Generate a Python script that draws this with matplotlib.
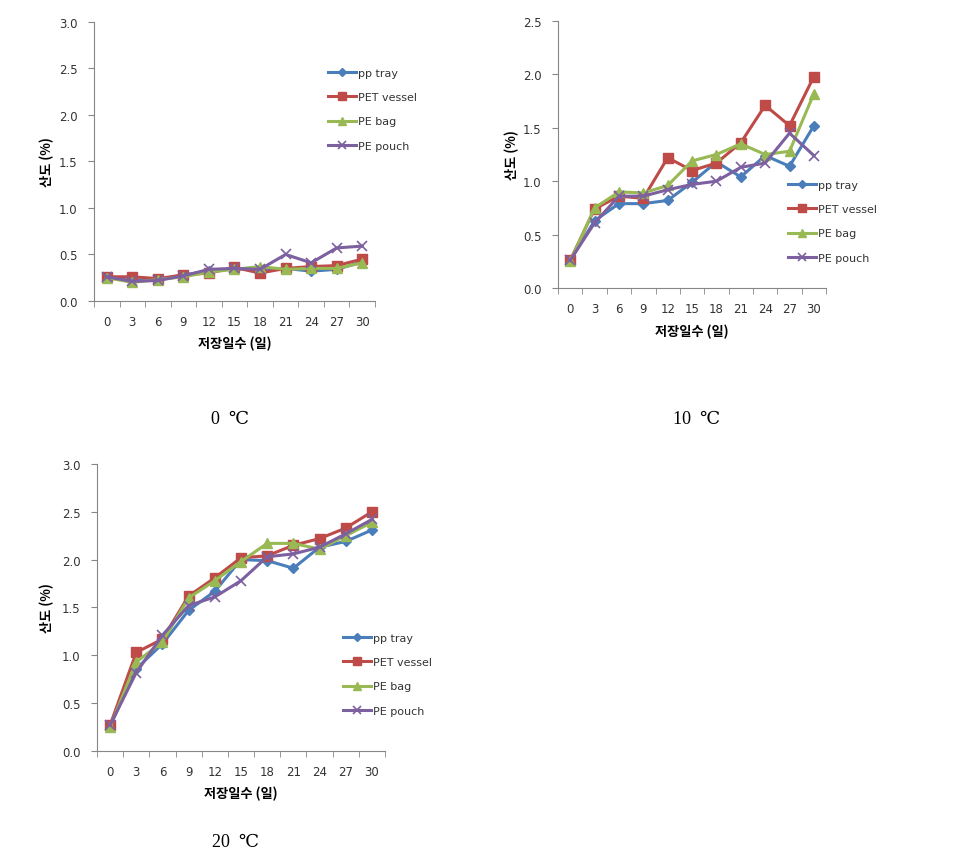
import numpy as np
import matplotlib
matplotlib.use("Agg")
import matplotlib.pyplot as plt

plt.rcParams['font.family'] = ['DejaVu Sans', 'Noto Sans CJK KR']

# storage days (categories)
days = ["0", "3", "6", "9", "12", "15", "18", "21", "24", "27", "30"]
series_names = ["pp tray", "PET vessel", "PE bag", "PE pouch"]

# acidity (%) at 0 C
acid_0 = {
    "pp tray":    [0.25, 0.22, 0.23, 0.28, 0.32, 0.35, 0.33, 0.35, 0.32, 0.34, 0.42],
    "PET vessel": [0.26, 0.26, 0.24, 0.28, 0.30, 0.36, 0.30, 0.35, 0.37, 0.38, 0.45],
    "PE bag":     [0.25, 0.20, 0.23, 0.26, 0.31, 0.34, 0.37, 0.34, 0.35, 0.35, 0.41],
    "PE pouch":   [0.26, 0.21, 0.22, 0.27, 0.34, 0.35, 0.34, 0.50, 0.41, 0.57, 0.59],
}
# acidity (%) at 10 C
acid_10 = {
    "pp tray":    [0.26, 0.63, 0.79, 0.79, 0.82, 0.99, 1.18, 1.04, 1.24, 1.14, 1.52],
    "PET vessel": [0.26, 0.74, 0.86, 0.84, 1.22, 1.10, 1.17, 1.36, 1.71, 1.52, 1.98],
    "PE bag":     [0.25, 0.75, 0.90, 0.89, 0.96, 1.19, 1.25, 1.35, 1.25, 1.28, 1.82],
    "PE pouch":   [0.26, 0.61, 0.86, 0.86, 0.92, 0.97, 1.00, 1.13, 1.17, 1.45, 1.24],
}
# acidity (%) at 20 C
acid_20 = {
    "pp tray":    [0.26, 0.86, 1.12, 1.47, 1.67, 2.00, 1.99, 1.91, 2.13, 2.19, 2.31],
    "PET vessel": [0.27, 1.03, 1.17, 1.62, 1.81, 2.02, 2.04, 2.15, 2.22, 2.33, 2.50],
    "PE bag":     [0.25, 0.93, 1.14, 1.60, 1.78, 1.98, 2.17, 2.17, 2.11, 2.25, 2.39],
    "PE pouch":   [0.27, 0.82, 1.21, 1.52, 1.61, 1.78, 2.03, 2.06, 2.13, 2.27, 2.42],
}

styles = {
    "pp tray":    dict(color="#4A7EBB", marker="D", ms=5),
    "PET vessel": dict(color="#BE4B48", marker="s", ms=7),
    "PE bag":     dict(color="#98B954", marker="^", ms=7),
    "PE pouch":   dict(color="#7D60A0", marker="x", ms=7, mew=1.2),
}

fig = plt.figure(figsize=(9.69, 8.62), dpi=100)


def draw_panel(rect, data, ymax, leg_anchor, ylab_x):
    ax = fig.add_axes(rect)
    x = np.arange(len(days))
    for name in series_names:
        st = styles[name]
        ax.plot(x, data[name], color=st["color"], lw=2.2, marker=st["marker"],
                ms=st["ms"], mew=st.get("mew", 1), mec=st["color"], mfc=st["color"],
                label=name)
    ax.set_xlim(-0.5, len(days) - 0.5)
    ax.set_ylim(0, ymax)
    ax.set_yticks(np.arange(0, ymax + 0.01, 0.5))
    ax.set_yticklabels(["%.1f" % v for v in np.arange(0, ymax + 0.01, 0.5)])
    ax.set_xticks(x)
    ax.set_xticklabels(days)
    ax.set_xticks(np.arange(-0.5, len(days)), minor=True)
    ax.tick_params(axis="x", which="major", length=0, pad=10, labelsize=8.5, labelcolor="#333333")
    ax.tick_params(axis="x", which="minor", length=4, color="#868686", direction="out")
    ax.tick_params(axis="y", length=4, color="#868686", labelsize=8.5, labelcolor="#333333", pad=8)
    for s in ["top", "right"]:
        ax.spines[s].set_visible(False)
    for s in ["left", "bottom"]:
        ax.spines[s].set_color("#868686")
    ax.set_ylabel("산도 (%)", fontsize=9.5, fontweight="bold", family=["Noto Sans CJK KR"])
    ax.yaxis.set_label_coords(ylab_x, 0.5)
    ax.set_xlabel("저장일수 (일)", fontsize=9.5, fontweight="bold", family=["Noto Sans CJK KR"], labelpad=6)
    leg = ax.legend(loc="upper left", bbox_to_anchor=leg_anchor, bbox_transform=fig.transFigure,
                    frameon=False, fontsize=8, labelspacing=1.3, handlelength=2.6,
                    handletextpad=0.15, borderpad=0, markerscale=0.85)
    for t in leg.get_texts():
        t.set_color("#333333")
    return ax


draw_panel([0.097, 0.6497, 0.290, 0.3237], acid_0, 3.0, (322 / 969, 1 - 63 / 862), -0.14)
draw_panel([0.5759, 0.6647, 0.2766, 0.3098], acid_10, 2.5, (782 / 969, 1 - 175 / 862), -0.145)
draw_panel([0.1001, 0.1276, 0.2972, 0.3330], acid_20, 3.0, (337 / 969, 1 - 628 / 862), -0.148)

cap_font = ["Liberation Serif", "DejaVu Serif"]
fig.text(230 / 969, 1 - 420 / 862, "0  ℃", fontsize=13, ha="center", va="center", family=cap_font)
fig.text(697 / 969, 1 - 420 / 862, "10  ℃", fontsize=13, ha="center", va="center", family=cap_font)
fig.text(236 / 969, 1 - 843 / 862, "20  ℃", fontsize=13, ha="center", va="center", family=cap_font)

fig.savefig("out.png", dpi=100)
